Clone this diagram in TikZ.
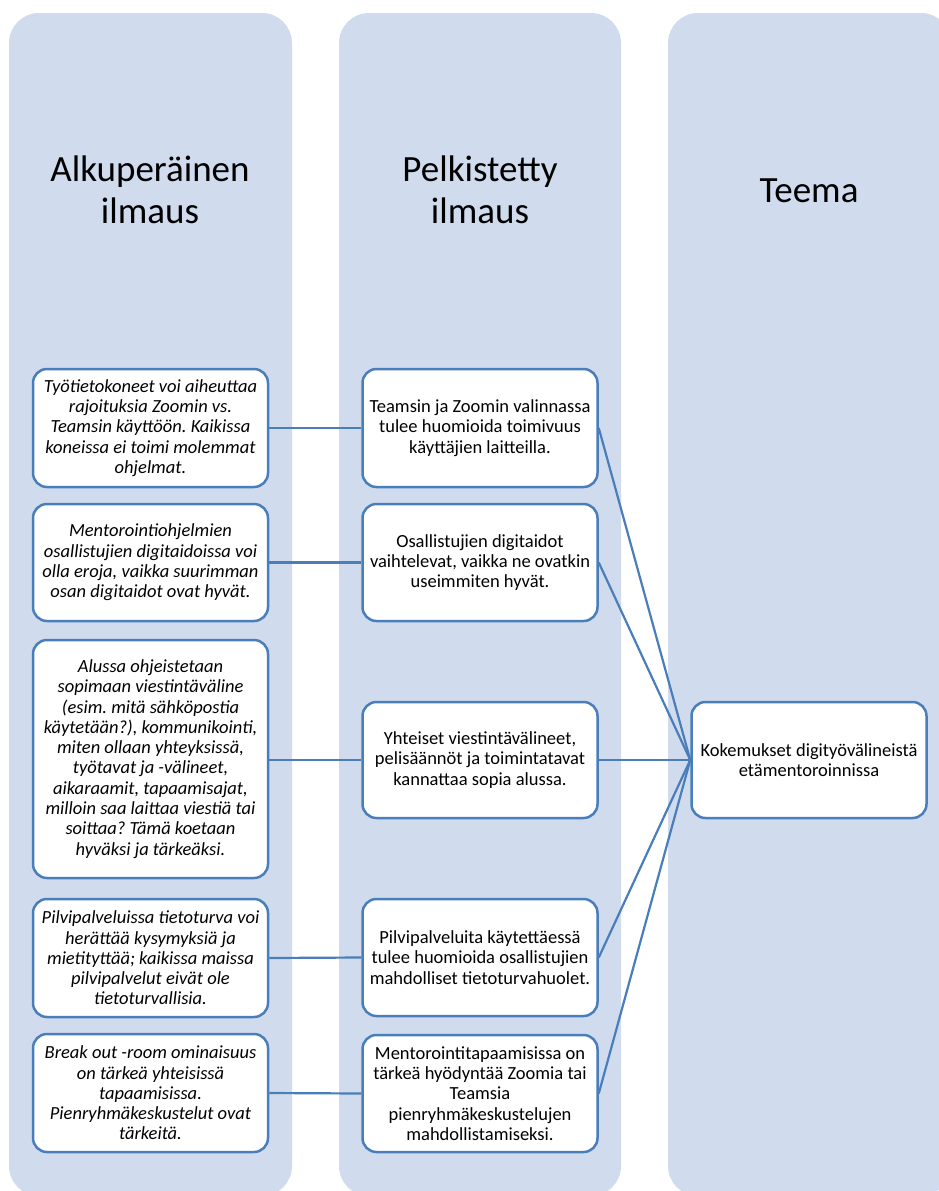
\documentclass[tikz,border=0pt]{standalone}
\usepackage{fontspec}
\setmainfont{Carlito}
\frenchspacing
\definecolor{colbg}{RGB}{208,219,238}
\definecolor{linec}{RGB}{74,126,187}
\begin{document}
\begin{tikzpicture}[x=1pt,y=-1pt,
  colbox/.style={fill=colbg, rounded corners=30pt},
  header/.style={font=\fontsize{37}{42}\selectfont, align=center, anchor=base},
  itembox/.style={draw=linec, line width=2.5pt, fill=white, rounded corners=14pt,
    minimum width=235pt, align=center, inner sep=0pt,
    font=\fontsize{18.5}{20.3}\selectfont},
  origbox/.style={itembox, font=\itshape\fontsize{18.5}{20.3}\selectfont},
  link/.style={draw=linec, line width=2.2pt}]
\useasboundingbox (0,0) rectangle (939,1191);
\clip (0,0) rectangle (939,1191);
% columns
\path[colbox] (9,13) rectangle (292,1196);
\path[colbox] (339,13) rectangle (621,1196);
\path[colbox] (668,13) rectangle (951,1196);
% headers
\node[header] (h1) at (150,223) {Alkuperäinen\\ilmaus};
\node[header] (h2) at (480,223) {Pelkistetty\\ilmaus};
\node[header] (h3) at (809,202) {Teema};
% original expressions
\node[origbox, minimum height=118pt] (a1) at (150.5,428) {Työtietokoneet voi aiheuttaa\\rajoituksia Zoomin vs.\\Teamsin käyttöön. Kaikissa\\koneissa ei toimi molemmat\\ohjelmat.};
\node[origbox, minimum height=117pt] (a2) at (150.5,562.5) {Mentorointiohjelmien\\osallistujien digitaidoissa voi\\olla eroja, vaikka suurimman\\osan digitaidot ovat hyvät.};
\node[origbox, minimum height=238pt] (a3) at (150.5,759) {Alussa ohjeistetaan\\sopimaan viestintäväline\\(esim. mitä sähköpostia\\käytetään?), kommunikointi,\\miten ollaan yhteyksissä,\\työtavat ja -välineet,\\aikaraamit, tapaamisajat,\\milloin saa laittaa viestiä tai\\soittaa? Tämä koetaan\\hyväksi ja tärkeäksi.};
\node[origbox, minimum height=118pt] (a4) at (150.5,958) {Pilvipalveluissa tietoturva voi\\herättää kysymyksiä ja\\mietityttää; kaikissa maissa\\pilvipalvelut eivät ole\\tietoturvallisia.};
\node[origbox, minimum height=118pt] (a5) at (150.5,1093) {Break out -room ominaisuus\\on tärkeä yhteisissä\\tapaamisissa.\\Pienryhmäkeskustelut ovat\\tärkeitä.};
% simplified expressions
\node[itembox, minimum height=118pt] (b1) at (480,428) {Teamsin ja Zoomin valinnassa\\tulee huomioida toimivuus\\käyttäjien laitteilla.};
\node[itembox, minimum height=117pt] (b2) at (480,562.5) {Osallistujien digitaidot\\vaihtelevat, vaikka ne ovatkin\\useimmiten hyvät.};
\node[itembox, minimum height=116pt] (b3) at (480,760) {Yhteiset viestintävälineet,\\pelisäännöt ja toimintatavat\\kannattaa sopia alussa.};
\node[itembox, minimum height=117pt] (b4) at (480,957.5) {Pilvipalveluita käytettäessä\\tulee huomioida osallistujien\\mahdolliset tietoturvahuolet.};
\node[itembox, minimum height=117pt] (b5) at (480,1093.5) {Mentorointitapaamisissa on\\tärkeä hyödyntää Zoomia tai\\Teamsia\\pienryhmäkeskustelujen\\mahdollistamiseksi.};
% theme
\node[itembox, minimum height=116pt] (c) at (809,760) {Kokemukset digityövälineistä\\etämentoroinnissa};
% connectors
\draw[link] (a1.east) -- (b1.west);
\draw[link] (a2.east) -- (b2.west);
\draw[link] (a3.east |- b3.west) -- (b3.west);
\draw[link] (a4.east) -- (b4.west);
\draw[link] (a5.east) -- (b5.west);
\draw[link] (b1.east) -- (c.west);
\draw[link] (b2.east) -- (c.west);
\draw[link] (b3.east) -- (c.west);
\draw[link] (b4.east) -- (c.west);
\draw[link] (b5.east) -- (c.west);
\end{tikzpicture}
\end{document}
